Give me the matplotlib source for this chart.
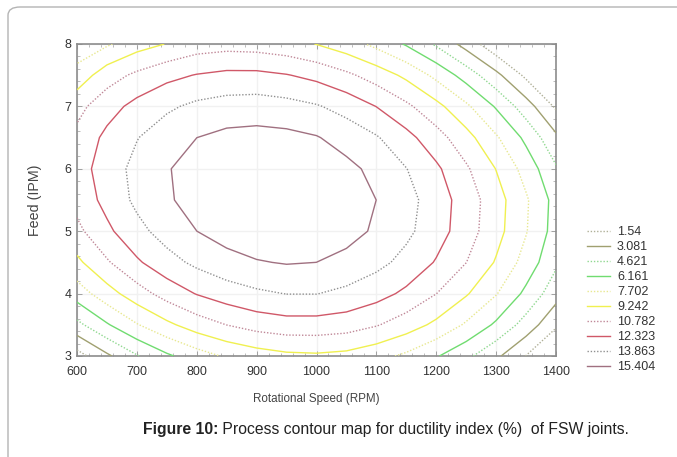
import numpy as np
import matplotlib
matplotlib.use("Agg")
import matplotlib.pyplot as plt
from matplotlib.lines import Line2D
from matplotlib.patches import FancyBboxPatch
from matplotlib.ticker import MultipleLocator

# grid: rotational speed (RPM) x feed (IPM)
speed = [600, 650, 700, 750, 800, 850, 900, 950, 1000, 1050, 1100, 1150, 1200, 1250, 1300, 1350, 1400]
feed = [3.0, 3.5, 4.0, 4.5, 5.0, 5.5, 6.0, 6.5, 7.0, 7.5, 8.0]

# ductility index (%) at each grid node, one row per feed value
ductility = [
    [0.9, 2.8, 4.5, 5.9, 7.0, 7.9, 8.5, 8.9, 9.0, 8.8, 8.2, 7.4, 6.3, 5.0, 3.4, 1.5, -0.6],
    [4.2, 6.0, 7.6, 8.9, 10.0, 10.8, 11.4, 11.7, 11.7, 11.5, 10.9, 10.0, 8.9, 7.5, 5.9, 4.0, 1.8],
    [6.9, 8.6, 10.1, 11.4, 12.4, 13.1, 13.6, 13.9, 13.9, 13.5, 12.9, 12.0, 10.8, 9.4, 7.8, 5.8, 3.7],
    [8.9, 10.6, 12.1, 13.3, 14.2, 14.9, 15.3, 15.5, 15.4, 15.0, 14.3, 13.4, 12.2, 10.8, 9.1, 7.1, 4.9],
    [10.4, 12.0, 13.4, 14.5, 15.4, 16.0, 16.4, 16.5, 16.3, 15.9, 15.2, 14.2, 13.0, 11.5, 9.8, 7.8, 5.5],
    [11.3, 12.8, 14.2, 15.2, 16.0, 16.5, 16.8, 16.8, 16.6, 16.1, 15.4, 14.4, 13.1, 11.6, 9.9, 7.9, 5.6],
    [11.6, 13.1, 14.3, 15.3, 16.0, 16.5, 16.7, 16.6, 16.3, 15.8, 15.0, 13.9, 12.6, 11.0, 9.2, 7.1, 4.8],
    [11.2, 12.7, 13.8, 14.7, 15.4, 15.8, 15.9, 15.8, 15.5, 14.8, 14.0, 12.8, 11.4, 9.8, 7.9, 5.8, 3.4],
    [10.3, 11.7, 12.8, 13.6, 14.2, 14.5, 14.6, 14.4, 14.0, 13.3, 12.3, 11.1, 9.7, 8.0, 6.0, 3.8, 1.3],
    [8.3, 10.1, 11.1, 11.9, 12.4, 12.7, 12.7, 12.4, 11.9, 11.1, 10.1, 8.9, 7.3, 5.5, 3.5, 1.2, -1.3],
    [6.7, 7.5, 8.6, 9.3, 10.0, 10.2, 10.1, 9.8, 9.2, 8.4, 7.3, 6.0, 4.4, 2.5, 0.4, -2.0, -4.6],
]

levels = [1.54, 3.081, 4.621, 6.161, 7.702, 9.242, 10.782, 12.323, 13.863, 15.404]
level_labels = ["1.54", "3.081", "4.621", "6.161", "7.702", "9.242", "10.782", "12.323", "13.863", "15.404"]

colors = ["#b0b098", "#a0a070", "#90d890", "#70dc70", "#e8e890", "#f0f050",
          "#c08898", "#d05868", "#909090", "#a07080"]
styles = [(0, (1, 1.3)), "-"] * 5

plt.rcParams["font.family"] = ["Liberation Sans", "DejaVu Sans"]
fig = plt.figure(figsize=(6.77, 4.57), dpi=100)

# rounded frame around the figure panel (cut off at right and bottom)
fig.patches.append(FancyBboxPatch((8 / 677, -0.3), 1.2, 1.3 - 7 / 457,
                                  boxstyle="round,pad=0,rounding_size=0.018",
                                  transform=fig.transFigure, fill=False,
                                  edgecolor="#b4b4b4", linewidth=1.0))

ax = fig.add_axes([77 / 677, 101 / 457, 479 / 677, 312 / 457])
ax.contour(speed, feed, ductility, levels=levels, colors=colors,
           linestyles=styles, linewidths=1.0, zorder=3)
ax.set_xlim(600, 1400)
ax.set_ylim(3, 8)

ax.xaxis.set_major_locator(MultipleLocator(100))
ax.xaxis.set_minor_locator(MultipleLocator(20))
ax.yaxis.set_major_locator(MultipleLocator(1))
ax.yaxis.set_minor_locator(MultipleLocator(0.2))
ax.grid(True, which="major", color="#f1f1f1", linewidth=1.0, zorder=0)
ax.tick_params(which="both", direction="in", top=True, right=True,
               color="#a0a0a0", labelsize=9, labelcolor="#333333")
ax.tick_params(which="major", length=3.5, width=0.7)
ax.tick_params(which="minor", length=2.2, width=0.5)
ax.tick_params(axis="x", pad=7)
ax.tick_params(axis="y", pad=4)
for sp in ax.spines.values():
    sp.set_color("#8c8c8c")
    sp.set_linewidth(1.2)

ax.set_xlabel("Rotational Speed (RPM)", fontsize=8.4, color="#444444", labelpad=11)
ax.set_ylabel("Feed (IPM)", fontsize=10.3, color="#444444", labelpad=16)

handles = [Line2D([], [], color=c, linestyle=s, linewidth=1.0) for c, s in zip(colors, styles)]
fig.legend(handles, level_labels, loc="upper left",
           bbox_to_anchor=(587 / 677, 1 - 226 / 457), frameon=False,
           fontsize=9, handlelength=1.8, handletextpad=0.6,
           labelspacing=0.24, borderpad=0, borderaxespad=0, labelcolor="#333333")

cap = fig.text(143 / 677, 1 - 437 / 457, "Figure 10:", fontsize=11.3, fontweight="bold",
               color="#222222", va="bottom")
fig.add_artist(plt.Annotation(" Process contour map for ductility index (%)  of FSW joints.",
                              xy=(1, 0), xycoords=cap, va="bottom", ha="left",
                              fontsize=11.3, color="#222222"))

fig.savefig("out.png", dpi=100)
